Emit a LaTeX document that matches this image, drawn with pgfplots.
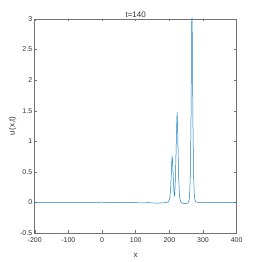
\documentclass[border=0pt]{standalone}
\usepackage{fontspec}
\setmainfont{Liberation Sans}
\usepackage{pgfplots}
\pgfplotsset{compat=1.18}
\definecolor{mblue}{rgb}{0.1,0.5,0.78}
\definecolor{axgray}{rgb}{0.45,0.45,0.45}
\begin{document}
\begin{tikzpicture}[x=1pt,y=1pt]
\path[fill=white] (0,0) rectangle (262,262);
\begin{axis}[
  at={(34.7pt,29pt)}, anchor=south west,
  scale only axis, width=202pt, height=214pt,
  xmin=-200, xmax=400, ymin=-0.5, ymax=3,
  xtick={-200,-100,0,100,200,300,400},
  ytick={-0.5,0,0.5,1,1.5,2,2.5,3},
  yticklabels={-0.5,0,0.5,1,1.5,2,2.5,3},
  xticklabels={-200,-100,0,100,200,300,400},
  tick align=inside, tick pos=both,
  major tick length=2.5pt,
  axis line style={axgray, line width=0.5pt},
  every tick/.style={axgray, line width=0.4pt},
  tick label style={font=\fontsize{7}{8}\selectfont, text=black!80},
  xticklabel style={yshift=-1.5pt},
  yticklabel style={xshift=1pt},
  title={t=140}, title style={font=\fontsize{8}{9}\selectfont, yshift=-8pt, text=black!80},
  xlabel={x}, xlabel style={font=\fontsize{8}{9}\selectfont, yshift=-3pt, text=black!80},
  ylabel={u(x,t)}, ylabel style={font=\fontsize{8}{9}\selectfont, yshift=-3pt, text=black!80},
  /pgf/number format/assume math mode=true,
]
\addplot[mblue, line width=0.5pt] coordinates {
(-200,0.002) (-150,0.002) (-100,0.002) (-50,0.002) (0,0.003) (30,0.0) (60,-0.005) (90,0.0) (110,-0.008) (140,-0.004) (160,-0.012) (180,-0.008) (192,0.0) (197,0.01) (200,0.04) (202,0.1) (204,0.25) (206,0.5) (207,0.65) (208,0.75) (209,0.72) (210,0.6) (212,0.35) (214,0.15) (215,0.11) (216,0.14) (218,0.4) (220,0.85) (221.5,1.2) (223,1.48) (224.5,1.25) (226,0.8) (228,0.35) (230,0.12) (232,0.04) (235,0.0) (240,-0.012) (245,-0.018) (250,-0.018) (255,-0.01) (258,0.02) (260,0.1) (262,0.4) (264,1.2) (265.5,2.3) (267,3.3) (268.5,2.5) (270,1.3) (272,0.45) (274,0.13) (276,0.04) (279,0.01) (285,0.002) (300,0.0) (400,0.0)
};
\end{axis}
\end{tikzpicture}
\end{document}
